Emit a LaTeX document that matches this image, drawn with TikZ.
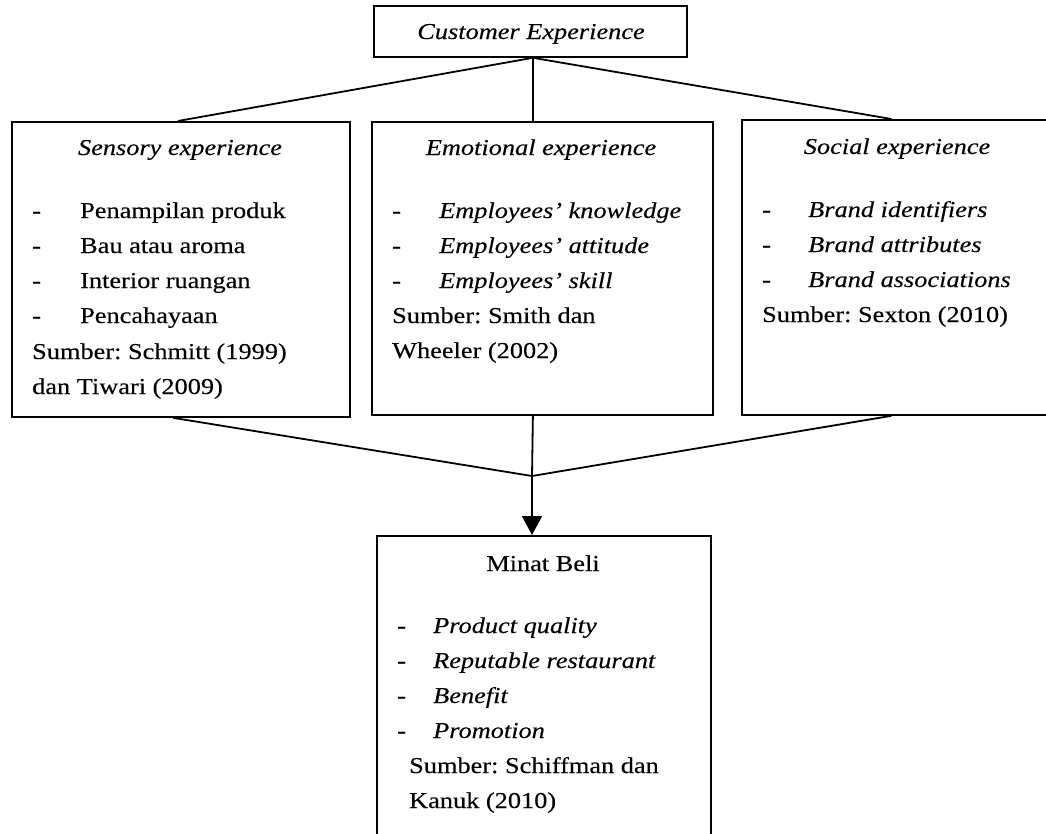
\documentclass[tikz,border=0pt]{standalone}
\usepackage{fontspec}
\setmainfont{Liberation Serif}[FakeStretch=1.16,FakeBold=0.2]
\usetikzlibrary{arrows.meta,calc}
\newcommand\diafont{\fontsize{22.7}{35}\selectfont}
\frenchspacing
\begin{document}
\frenchspacing
\begin{tikzpicture}[x=1pt,y=-1pt, font=\diafont,
  box/.style={draw, line width=1.8pt, inner sep=0pt, anchor=north west},
  txt/.style={inner sep=0pt, anchor=base west},
  ttl/.style={inner sep=0pt, anchor=base, font=\diafont\itshape},
  link/.style={line width=1.8pt}]
\useasboundingbox (0,0) rectangle (1046,833);
\clip (0,0) rectangle (1046,833);
% boxes
\node[box, minimum width=313pt, minimum height=51pt] (ce) at (373,5) {};
\node[box, minimum width=338pt, minimum height=295pt] (sens) at (11,121) {};
\node[box, minimum width=341pt, minimum height=293pt] (emo) at (371,121) {};
\node[box, minimum width=313pt, minimum height=295pt] (soc) at (741,119) {};
\node[box, minimum width=334pt, minimum height=330pt] (minat) at (376,535) {};
% connectors
\coordinate (top) at ([xshift=2.5pt]ce.south);
\coordinate (join) at (532,476);
\draw[link] (top) -- ([xshift=-3pt]sens.north);
\draw[link] (top) -- (top |- emo.north);
\draw[link] (top) -- ([xshift=-7pt]soc.north);
\draw[link] ([xshift=-8pt]sens.south) -- (join);
\draw[link] ([xshift=-7pt]soc.south) -- (join);
\draw[link] (top |- emo.south) -- (join);
\draw[link, -{Triangle[width=20pt,length=19pt]}] (join) -- (join |- minat.north);
% titles
\node[ttl] (ceT) at (531,39) {Customer Experience};
\node[ttl] (sensT) at (180,155) {Sensory experience};
\node[ttl] (emoT) at (541,155) {Emotional experience};
\node[ttl] (socT) at (897,154) {Social experience};
\node[ttl, font=\diafont\upshape] (minT) at (543,571) {Minat Beli};
% sensory items
\foreach \t [count=\i] in {Penampilan produk, Bau atau aroma, Interior ruangan, Pencahayaan}{
  \node[txt] (sensD\i) at (32,{218+35*(\i-1)}) {-};
  \node[txt] (sensI\i) at (80,{218+35*(\i-1)}) {\t};
}
\node[txt] (sensS1) at (32,359) {Sumber: Schmitt (1999)};
\node[txt] (sensS2) at (32,394) {dan Tiwari (2009)};
% emotional items
\foreach \t [count=\i] in {Employees’ knowledge, Employees’ attitude, Employees’ skill}{
  \node[txt] (emoD\i) at (392,{218+35*(\i-1)}) {-};
  \node[txt] (emoI\i) at (439,{218+35*(\i-1)}) {\itshape \t};
}
\node[txt] (emoS1) at (392,323) {Sumber: Smith dan};
\node[txt] (emoS2) at (392,358) {Wheeler (2002)};
% social items
\foreach \t [count=\i] in {Brand identifiers, Brand attributes, Brand associations}{
  \node[txt] (socD\i) at (762,{217+35*(\i-1)}) {-};
  \node[txt] (socI\i) at (808,{217+35*(\i-1)}) {\itshape \t};
}
\node[txt] (socS1) at (762,322) {Sumber: Sexton (2010)};
% minat beli items
\foreach \t [count=\i] in {Product quality, Reputable restaurant, Benefit, Promotion}{
  \node[txt] (minD\i) at (397,{633+35*(\i-1)}) {-};
  \node[txt] (minI\i) at (433,{633+35*(\i-1)}) {\itshape \t};
}
\node[txt] (minS1) at (409,773) {Sumber: Schiffman dan};
\node[txt] (minS2) at (409,808) {Kanuk (2010)};
\end{tikzpicture}
\end{document}
